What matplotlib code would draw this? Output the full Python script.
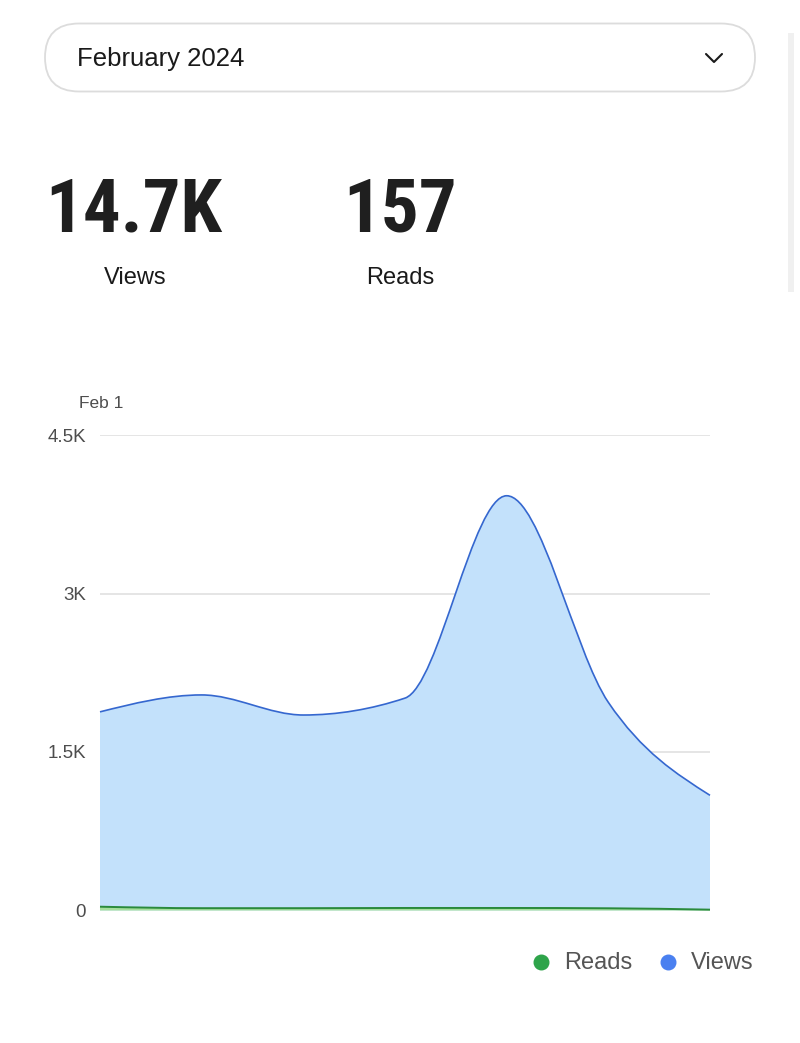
import numpy as np
import matplotlib
matplotlib.use("Agg")
import matplotlib.pyplot as plt
from matplotlib.path import Path
from matplotlib.patches import PathPatch, FancyBboxPatch, Rectangle
from matplotlib.textpath import TextPath
from matplotlib import font_manager as fm

# ---- data ----
month_label = "February 2024"
total_views = "14.7K"
total_reads = "157"
periods = [0, 1, 2, 3, 4, 5, 6]
views = [1880, 2040, 1850, 2010, 3925, 1970, 1090]
reads = [36, 22, 22, 24, 24, 21, 8]
y_ticks = [0, 1500, 3000, 4500]
y_tick_labels = ["0", "1.5K", "3K", "4.5K"]
first_label = "Feb 1"
series_names = ["Reads", "Views"]

# ---- fonts ----
def find_file(**kw):
    try:
        return fm.findfont(fm.FontProperties(**kw), fallback_to_default=False)
    except Exception:
        return None

base_font = "Liberation Sans" if find_file(family="Liberation Sans") else "DejaVu Sans"
plt.rcParams["font.family"] = [base_font, "DejaVu Sans"]

big_fp = None
for fam in ["Liberation Sans Narrow", "Arial Narrow", "Roboto Condensed", "Open Sans Condensed"]:
    if find_file(family=fam, weight="bold"):
        big_fp = fm.FontProperties(family=fam, weight="bold")
        break
if big_fp is None:
    big_fp = fm.FontProperties(family=base_font, weight="bold")

W, H = 800, 1043
DPI = 100
fig = plt.figure(figsize=(W / DPI, H / DPI), dpi=DPI)
fig.patch.set_facecolor("white")

ov = fig.add_axes([0, 0, 1, 1])
ov.set_xlim(0, W)
ov.set_ylim(H, 0)
ov.axis("off")

# dropdown box
ov.add_patch(FancyBboxPatch((45, 23.5), 710, 68, boxstyle="round,pad=0,rounding_size=34",
                            fc="white", ec="#dcdcdc", lw=1.3))
ov.text(77, 59, month_label, fontsize=18.5, color="#1a1a1a", va="center", ha="left")
ov.plot([706, 714, 722], [54, 62, 54], color="#1a1a1a", lw=1.5, solid_capstyle="round")

# scrollbar
ov.add_patch(Rectangle((788, 33), 6, 259, fc="#f0f0f0", ec="none"))

# totals: size the display numbers from the reference's ink height and width
k = DPI / 72.0
probe = TextPath((0, 0), total_views, size=100, prop=big_fp).get_extents()
size_h = 100 * 60 / (probe.height * k)
size_w = 100 * 181 / (probe.width * k)
big_size = 0.92 * 0.5 * (size_h + size_w)

ov.text(45, 211, total_views, fontsize=big_size, fontproperties=big_fp, color="#1f1f1f",
        va="center", ha="left")
ov.text(343, 211, total_reads, fontsize=big_size, fontproperties=big_fp, color="#1f1f1f",
        va="center", ha="left")
ov.text(135, 278, "Views", fontsize=17, color="#1a1a1a", va="center", ha="center")
ov.text(400, 278, "Reads", fontsize=17, color="#1a1a1a", va="center", ha="center")
ov.text(79, 403, first_label, fontsize=12.5, color="#4d4d4d", va="center", ha="left")

# legend
ov.scatter([541], [962], s=110, color="#2ea44a", zorder=3)
ov.text(564, 963, series_names[0], fontsize=17, color="#555555", va="center", ha="left")
ov.scatter([668], [962], s=110, color="#4a80f0", zorder=3)
ov.text(691, 963, series_names[1], fontsize=17, color="#555555", va="center", ha="left")

# ---- chart axes ----
x0, x1 = 100, 710
ytop, yzero = 435, 910.5
ax = fig.add_axes([x0 / W, (H - yzero) / H, (x1 - x0) / W, (yzero - ytop) / H])
ax.set_xlim(periods[0], periods[-1])
ax.set_ylim(0, 4500)
ax.patch.set_alpha(0)
for s in ax.spines.values():
    s.set_visible(False)
ax.set_xticks([])
ax.set_yticks(y_ticks)
ax.set_yticklabels(y_tick_labels)
ax.tick_params(axis="y", length=0, pad=10, labelsize=13.5, labelcolor="#4d4d4d")
for t in y_ticks[1:]:
    ax.axhline(t, color="#e3e3e3", lw=1.3, zorder=0)


def monotone_path(xs, ys):
    xs = np.asarray(xs, float)
    ys = np.asarray(ys, float)
    n = len(xs)
    h = np.diff(xs)
    s = np.diff(ys) / h
    t = np.zeros(n)
    for i in range(1, n - 1):
        p = (s[i - 1] * h[i] + s[i] * h[i - 1]) / (h[i - 1] + h[i])
        t[i] = (np.sign(s[i - 1]) + np.sign(s[i])) * min(abs(s[i - 1]), abs(s[i]), 0.5 * abs(p))
    t[0] = (3 * s[0] - t[1]) / 2
    t[-1] = (3 * s[-1] - t[-2]) / 2
    verts = [(xs[0], ys[0])]
    codes = [Path.MOVETO]
    for i in range(n - 1):
        dx = h[i] / 3
        verts += [(xs[i] + dx, ys[i] + dx * t[i]), (xs[i + 1] - dx, ys[i + 1] - dx * t[i + 1]),
                  (xs[i + 1], ys[i + 1])]
        codes += [Path.CURVE4] * 3
    return verts, codes


def draw_area(ys, fill, line, lw, z):
    verts, codes = monotone_path(periods, ys)
    fverts = verts + [(periods[-1], 0), (periods[0], 0), verts[0]]
    fcodes = codes + [Path.LINETO, Path.LINETO, Path.CLOSEPOLY]
    ax.add_patch(PathPatch(Path(fverts, fcodes), fc=fill, ec="none", zorder=z, clip_on=False))
    ax.add_patch(PathPatch(Path(verts, codes), fc="none", ec=line, lw=lw, zorder=z + 0.5,
                           clip_on=False, capstyle="butt"))


draw_area(views, "#c3e1fb", "#3567cf", 1.2, 2)
draw_area(reads, "#a6df9c", "#2a8a3c", 1.4, 3)

fig.savefig("out.png", dpi=DPI, facecolor="white")
